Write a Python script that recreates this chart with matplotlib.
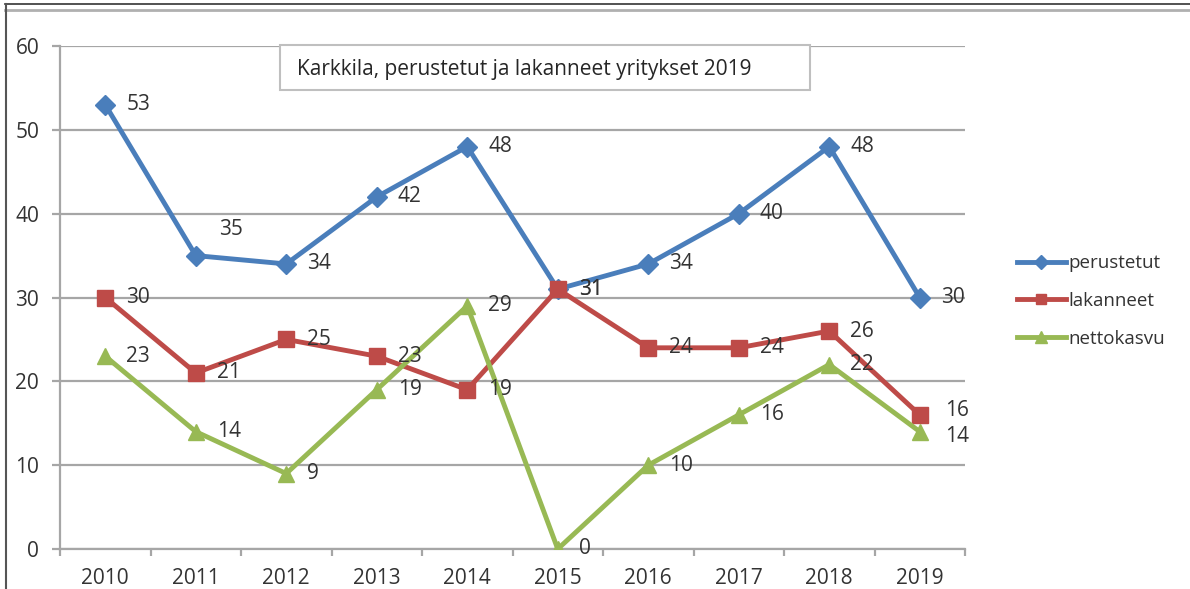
import matplotlib.pyplot as plt
from matplotlib.lines import Line2D
from matplotlib.patches import Rectangle

plt.rcParams['font.family'] = ['Open Sans', 'DejaVu Sans']

# data
years = ['2010', '2011', '2012', '2013', '2014', '2015', '2016', '2017', '2018', '2019']
perustetut = [53, 35, 34, 42, 48, 31, 34, 40, 48, 30]
lakanneet = [30, 21, 25, 23, 19, 31, 24, 24, 26, 16]
nettokasvu = [23, 14, 9, 19, 29, 0, 10, 16, 22, 14]
title = 'Karkkila, perustetut ja lakanneet yritykset 2019'

txt = '#333333'
grid = '#a6a6a6'

fig = plt.figure(figsize=(11.9, 5.89), dpi=100)
ax = fig.add_axes([60 / 1190, 1 - 549 / 589, 905 / 1190, 503 / 589])

x = range(len(years))
series = [
    ('perustetut', perustetut, '#4A7EBB', 'D', 10),
    ('lakanneet', lakanneet, '#BE4B48', 's', 11),
    ('nettokasvu', nettokasvu, '#98B954', '^', 12),
]

# label offsets in pixels (some labels were moved by hand in the original)
label_shift = {
    ('perustetut', 1): (23, 26),
    ('lakanneet', 9): (25, 4),
    ('nettokasvu', 9): (25, -5),
}

for name, vals, col, mk, ms in series:
    ax.plot(x, vals, color=col, lw=3.5, marker=mk, ms=ms, label=name, zorder=3)
    for i, v in enumerate(vals):
        dx, dy = label_shift.get((name, i), (21, 0))
        ax.annotate(str(v), (i, v), xytext=(dx, dy), textcoords='offset pixels',
                    ha='left', va='center', fontsize=15, color=txt, zorder=5)

ax.set_xlim(-0.5, len(years) - 0.5)
ax.set_ylim(0, 60)
ax.set_yticks(range(0, 61, 10))
ax.set_xticks(list(x))
ax.set_xticklabels(years)
ax.set_xticks([i - 0.5 for i in range(len(years) + 1)], minor=True)

ax.grid(axis='y', color=grid, lw=1.6, zorder=1)
for s in ['top', 'right']:
    ax.spines[s].set_visible(False)
for s in ['left', 'bottom']:
    ax.spines[s].set_color(grid)
    ax.spines[s].set_linewidth(1.6)

ax.tick_params(axis='y', length=6, width=1.6, color=grid, labelsize=15, labelcolor=txt, pad=9)
ax.tick_params(axis='x', which='major', length=0, labelsize=15, labelcolor=txt, pad=14)
ax.tick_params(axis='x', which='minor', length=5, width=1.6, color=grid)

# title box inside the plot
fig.add_artist(Rectangle((280 / 1190, 1 - 90 / 589), 530 / 1190, 45 / 589,
                         transform=fig.transFigure, facecolor='white',
                         edgecolor='#bfbfbf', lw=1.5, zorder=4))
fig.text(297 / 1190, 1 - 69 / 589, title, fontsize=15, color='#262626',
         va='center', ha='left', zorder=6)

fig.legend(loc='center left', bbox_to_anchor=(1017 / 1190, 1 - 301 / 589),
           frameon=False, fontsize=13.5, handlelength=2.6, handletextpad=0.15,
           labelspacing=1.05, borderpad=0, borderaxespad=0, markerscale=0.7,
           labelcolor=txt)

# outer frame of the screenshot
fig.add_artist(Line2D([5 / 1190, 1], [1 - 4 / 589] * 2, transform=fig.transFigure, color='#333333', lw=1.2))
fig.add_artist(Line2D([5 / 1190, 1], [1 - 10 / 589] * 2, transform=fig.transFigure, color='#b0b0b0', lw=2))
fig.add_artist(Line2D([6 / 1190] * 2, [0, 1 - 4 / 589], transform=fig.transFigure, color='#555555', lw=1.5))

fig.savefig('out.png', dpi=100)
